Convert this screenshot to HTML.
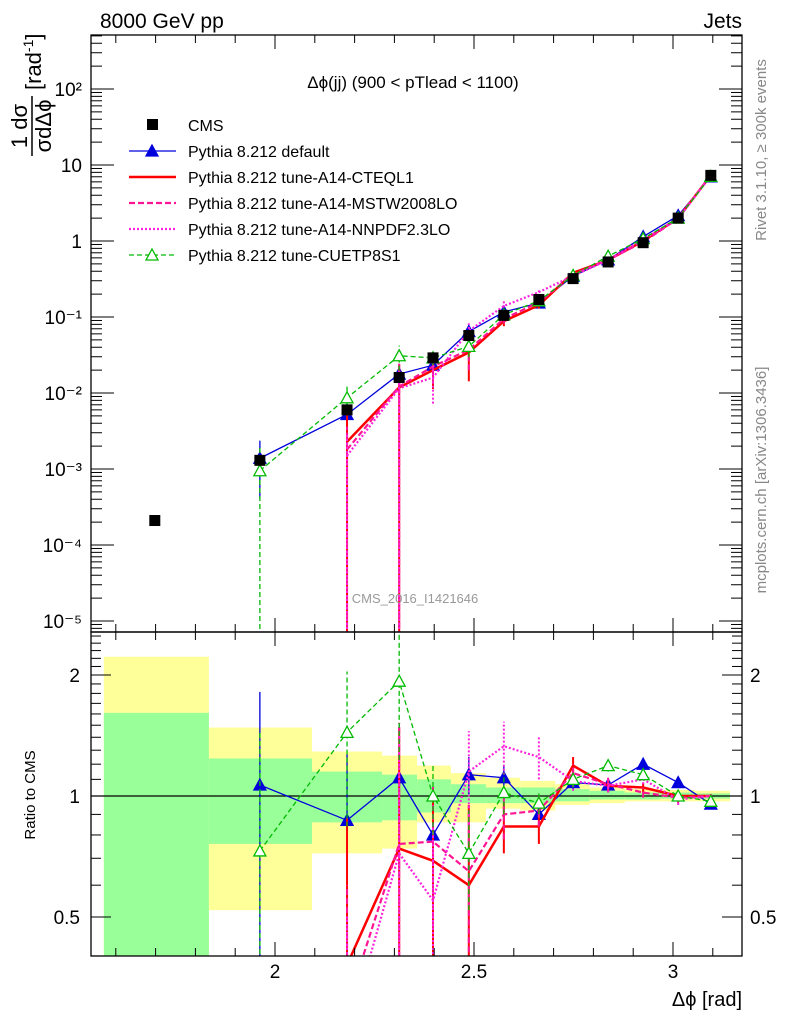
<!DOCTYPE html>
<html><head><meta charset="utf-8"><style>
body{margin:0;background:#fff;overflow:hidden;}
svg{display:block;}
svg text{font-family:"Liberation Sans",sans-serif;}
</style></head><body>
<svg id="c" width="786" height="1024" viewBox="0 0 786 1024" xmlns="http://www.w3.org/2000/svg">
<defs>
<clipPath id="cm"><rect x="91" y="35" width="651" height="597"/></clipPath>
<clipPath id="cr"><rect x="91" y="632" width="651" height="324"/></clipPath>
</defs>
<g id="bands" clip-path="url(#cr)"></g>
<g id="ratio" clip-path="url(#cr)"></g>
<g id="main" clip-path="url(#cm)"></g>
<g id="axes"></g>
<text x="100" y="28" font-size="21">8000 GeV pp</text>
<text x="742" y="28" font-size="21" text-anchor="end">Jets</text>
<text x="413" y="88" font-size="17" text-anchor="middle">Δϕ(jj) (900 &lt; pTlead &lt;  1100)</text>
<text x="415" y="603" font-size="13" fill="#999" text-anchor="middle">CMS_2016_I1421646</text>
<text transform="translate(766,150) rotate(-90)" font-size="15" fill="#888" text-anchor="middle">Rivet 3.1.10, ≥ 300k events</text>
<text transform="translate(766,480) rotate(-90)" font-size="15" fill="#888" text-anchor="middle">mcplots.cern.ch [arXiv:1306.3436]</text>
<g transform="translate(0,158) rotate(-90)">
<text x="32" y="27" font-size="22" text-anchor="middle">1 dσ</text>
<line x1="2" y1="32" x2="62" y2="32" stroke="#000" stroke-width="1.5"/>
<text x="32" y="51" font-size="22" text-anchor="middle">σdΔϕ</text>
<text x="68" y="41" font-size="22">[rad<tspan font-size="14" dy="-8">-1</tspan><tspan dy="8">]</tspan></text>
</g>
<text transform="translate(35,795) rotate(-90)" font-size="15" text-anchor="middle">Ratio to CMS</text>
<text x="742" y="1006" font-size="20" text-anchor="end">Δϕ [rad]</text>
<g id="legend"></g>
</svg>
<script>
const xs=[1.698,1.962,2.181,2.312,2.397,2.487,2.575,2.663,2.749,2.837,2.925,3.013,3.095];
const cms=[2.1e-4,1.3e-3,6.0e-3,0.016,0.029,0.057,0.105,0.17,0.32,0.53,0.95,2.0,7.3];
const rDefault=[null,1.065,0.87,1.11,0.8,1.13,1.11,0.9,1.08,1.065,1.2,1.08,0.955];
const eDefault=[0,0.75,0.4,0.4,0.1,0.12,0.08,0.05,0.04,0.03,0.03,0.02,0.01];
const rCteq=[null,null,0.38,0.74,0.69,0.6,0.84,0.84,1.19,1.06,1.05,1.0,1.0];
const eCteq=[0,0,0.5,0.74,0.3,0.35,0.12,0.08,0.06,0.04,0.03,0.02,0.01];
const rMstw=[null,null,0.3,0.76,0.77,0.65,0.9,0.92,1.14,1.07,1.02,0.99,1.0];
const eMstw=[0,0,0.3,0.76,0.3,0.3,0.12,0.08,0.06,0.04,0.03,0.03,0.01];
const rNnpdf=[null,null,0.25,0.72,0.55,1.15,1.33,1.25,1.09,1.06,1.1,0.98,1.0];
const eNnpdf=[0,0,0.25,0.72,0.3,0.3,0.2,0.15,0.06,0.04,0.03,0.03,0.01];
const rCuetp=[null,0.73,1.44,1.93,1.0,0.72,1.02,0.96,1.1,1.19,1.13,1.0,0.97];
const eCuetp=[0,0.73,0.6,0.7,0.2,0.2,0.12,0.06,0.05,0.04,0.03,0.02,0.01];
const binEdges=[1.570,1.834,2.093,2.269,2.357,2.442,2.530,2.616,2.704,2.791,2.879,2.967,3.055,3.143];
const yelHi=[2.22,1.48,1.29,1.26,1.19,1.14,1.11,1.09,1.07,1.05,1.04,1.035,1.03];
const yelLo=[0.2,0.52,0.72,0.74,0.86,0.86,0.93,0.92,0.95,0.96,0.97,0.97,0.97];
const grnHi=[1.61,1.24,1.15,1.13,1.1,1.07,1.05,1.05,1.04,1.03,1.02,1.02,1.015];
const grnLo=[0.2,0.76,0.86,0.87,0.91,0.96,0.96,0.96,0.97,0.98,0.98,0.985,0.985];
const mainTicks=["10⁻⁵","10⁻⁴","10⁻³","10⁻²","10⁻¹","1","10","10²"];
const xTicks=[2,2.5,3];
const rTicks=[0.5,1,2];

const NS="http://www.w3.org/2000/svg";
const X=v=>275+(v-2)*398;
const Y=v=>241-76*Math.log10(v);
const R=v=>796-402*Math.log10(v);
const RB=956;
function mk(p,t,a){const e=document.createElementNS(NS,t);for(const k in a)e.setAttribute(k,a[k]);p.appendChild(e);return e;}
const gB=document.getElementById('bands'),gR=document.getElementById('ratio'),gM=document.getElementById('main'),gA=document.getElementById('axes'),gL=document.getElementById('legend');

for(let i=0;i<yelHi.length;i++){
  const x0=X(binEdges[i]),x1=X(binEdges[i+1]);
  const y=mk(gB,'rect',{x:x0,y:R(yelHi[i]),width:x1-x0,height:R(yelLo[i])-R(yelHi[i]),fill:'#ffff99'});
  
  
  const g=mk(gB,'rect',{x:x0,y:R(grnHi[i]),width:x1-x0,height:R(grnLo[i])-R(grnHi[i]),fill:'#99ff99'});
  
  
}
const one=mk(gR,'line',{x1:91,x2:742,y1:R(1),y2:R(1),stroke:'#000','stroke-width':1.2});



const series=[
 {n:'default',r:rDefault,e:eDefault,c:'#0000dd',w:1.3,d:'',m:'tri-fill'},
 {n:'cteql1',r:rCteq,e:eCteq,c:'#ff0000',w:2.5,d:'',m:'none'},
 {n:'mstw2008lo',r:rMstw,e:eMstw,c:'#ff1493',w:2.2,d:'6,3',m:'none'},
 {n:'nnpdf23lo',r:rNnpdf,e:eNnpdf,c:'#ff22dd',w:2.2,d:'2,2',m:'none'},
 {n:'cuetp8s1',r:rCuetp,e:eCuetp,c:'#00bb00',w:1.3,d:'5,3',m:'tri-open'}
];
function tri(p,x,y,c,fill){return mk(p,'path',{d:`M${x},${y-6}L${x+6},${y+5}L${x-6},${y+5}Z`,fill:fill?c:'#fff',stroke:c,'stroke-width':1.3});}
function drawSeries(g,s,fy,pane){
  let pts=[];
  for(let i=0;i<xs.length;i++){
    if(s.r[i]==null)continue;
    const v=pane==='r'?s.r[i]:s.r[i]*cms[i];
    const lo=pane==='r'?Math.max(s.r[i]-s.e[i],1e-3):Math.max((s.r[i]-s.e[i])*cms[i],1e-9);
    const hi=pane==='r'?s.r[i]+s.e[i]:(s.r[i]+s.e[i])*cms[i];
    const eb=mk(g,'line',{x1:X(xs[i]),x2:X(xs[i]),y1:fy(lo),y2:fy(hi),stroke:s.c,'stroke-width':s.w>2?2:1.3,'stroke-dasharray':s.d});
    
    
    pts.push([X(xs[i]),fy(v)]);
  }
  const pl=mk(g,'polyline',{points:pts.map(p=>p.join(',')).join(' '),fill:'none',stroke:s.c,'stroke-width':s.w,'stroke-dasharray':s.d});
  
  
  if(s.m!=='none')pts.forEach(p=>{const t=tri(g,p[0],p[1],s.c,s.m==='tri-fill');});
}
series.forEach(s=>drawSeries(gR,s,R,'r'));
series.forEach(s=>drawSeries(gM,s,Y,'m'));
for(let i=0;i<xs.length;i++){
  const q=mk(gM,'rect',{x:X(xs[i])-5.5,y:Y(cms[i])-5.5,width:11,height:11,fill:'#000'});
  
  
}
[[35,632],[632,RB]].forEach(([t,b])=>mk(gA,'rect',{x:91,y:t,width:651,height:b-t,fill:'none',stroke:'#000','stroke-width':1.3}));
for(let k=16;k<=31;k++){
  const v=k/10,x=X(v),maj=(k%5===0);const L=maj?14:8;
  [[35,1],[632,-1],[632,1],[RB,-1]].forEach(([y,d])=>mk(gA,'line',{x1:x,x2:x,y1:y,y2:y+d*L,stroke:'#000'}));
}
xTicks.forEach(v=>{const t=mk(gA,'text',{x:X(v),y:978,'font-size':19,'text-anchor':'middle'});t.textContent=String(v);});
for(let d=-6;d<=2;d++){
  for(let m=1;m<=9;m++){
    const v=m*Math.pow(10,d),y=Y(v);if(y<35||y>632)continue;const L=m===1?23:11;
    mk(gA,'line',{x1:91,x2:91+L,y1:y,y2:y,stroke:'#000'});mk(gA,'line',{x1:742,x2:742-L,y1:y,y2:y,stroke:'#000'});
  }
}
mainTicks.forEach((s,i)=>{const d=i-5;const t=mk(gA,'text',{x:82,y:Y(Math.pow(10,d))+7,'font-size':19,'text-anchor':'end'});t.textContent=s;});
for(let k=4;k<=25;k++){
  const v=k/10,y=R(v);if(y<632||y>RB)continue;const maj=rTicks.some(t=>Math.abs(t-v)<1e-6);const L=maj?20:10;
  mk(gA,'line',{x1:91,x2:91+L,y1:y,y2:y,stroke:'#000'});mk(gA,'line',{x1:742,x2:742-L,y1:y,y2:y,stroke:'#000'});
}
rTicks.forEach(v=>{
  const a=mk(gA,'text',{x:80,y:R(v)+7,'font-size':19,'text-anchor':'end'});a.textContent=String(v);
  const b=mk(gA,'text',{x:750,y:R(v)+7,'font-size':19});b.textContent=String(v);
});
const labels=['CMS','Pythia 8.212 default','Pythia 8.212 tune-A14-CTEQL1','Pythia 8.212 tune-A14-MSTW2008LO','Pythia 8.212 tune-A14-NNPDF2.3LO','Pythia 8.212 tune-CUETP8S1'];
labels.forEach((s,i)=>{
  const y=125+i*26;
  const t=mk(gL,'text',{x:188,y:y+6,'font-size':16});t.textContent=s;
  
  
  if(i===0){mk(gL,'rect',{x:147,y:y-6,width:11,height:11,fill:'#000'});}
  else{const sr=series[i-1];mk(gL,'line',{x1:129,x2:176,y1:y,y2:y,stroke:sr.c,'stroke-width':sr.w,'stroke-dasharray':sr.d});
    if(sr.m!=='none')tri(gL,152,y,sr.c,sr.m==='tri-fill');}
});
</script>
</body></html>
